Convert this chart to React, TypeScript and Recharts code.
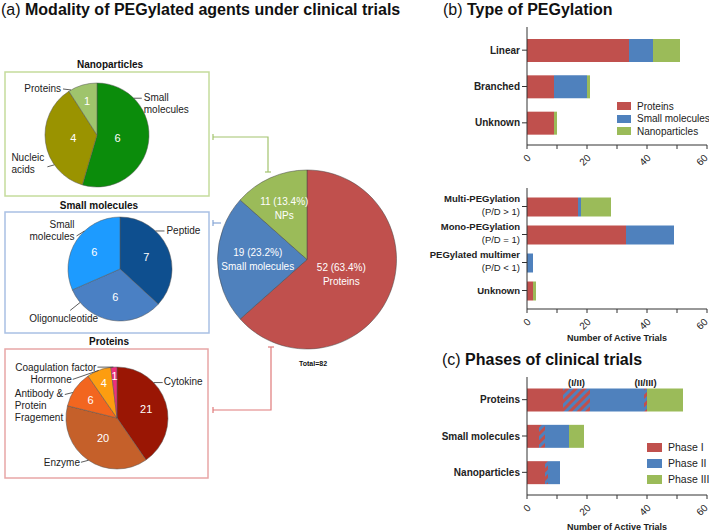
import React from "react";
import { PieChart, Pie, Cell, BarChart, Bar, XAxis, YAxis, Legend, LabelList } from "recharts";

const FONT = "'Liberation Sans', Arial, Helvetica, sans-serif";
const RED = "#c0504d";
const BLUE = "#4f81bd";
const GREEN = "#9bbb59";

// (a) modality of PEGylated agents
const modalityNames = ["Proteins", "Small molecules", "NPs"];
const modalityCounts = [52, 19, 11];

const npNames = ["Small molecules", "Nucleic acids", "Proteins"];
const npCounts = [6, 4, 1];

const smNames = ["Peptide", "Oligonucleotide", "Small molecules"];
const smCounts = [7, 6, 6];

const proteinNames = ["Cytokine", "Enzyme", "Antibody & Protein Fragement", "Hormone", "Coagulation factor"];
const proteinCounts = [21, 20, 6, 4, 1];

// (b) type of PEGylation
const pegTypes = ["Linear", "Branched", "Unknown"];
const pegTypeProteins = [34, 9, 9];
const pegTypeSmall = [8, 11, 0];
const pegTypeNano = [9, 1, 1];

const pegRatios = ["Multi-PEGylation", "Mono-PEGylation", "PEGylated multimer", "Unknown"];
const pegRatioNotes = ["(P/D > 1)", "(P/D = 1)", "(P/D < 1)", ""];
const pegRatioProteins = [17, 33, 0, 2];
const pegRatioSmall = [1, 16, 2, 0];
const pegRatioNano = [10, 0, 0, 1];

// (c) phases of clinical trials
const phaseGroups = ["Proteins", "Small molecules", "Nanoparticles"];
const phase1 = [12, 4, 6];
const phase1to2 = [9, 2, 1];
const phase2 = [18, 8, 4];
const phase2to3 = [1, 0, 0];
const phase3 = [12, 5, 0];
const bridge12Notes = ["(I/II)", "", ""];
const bridge23Notes = ["(II/III)", "", ""];

const seriesOrder = ["Proteins", "Small molecules", "Nanoparticles", "Phase I", "Phase II", "Phase III"];

const toPie = (names: string[], counts: number[]) => names.map((name, i) => ({ name, value: counts[i] }));
const modalityData = toPie(modalityNames, modalityCounts);
const npData = toPie(npNames, npCounts);
const smData = toPie(smNames, smCounts);
const proteinData = toPie(proteinNames, proteinCounts);

const typeData = pegTypes.map((name, i) => ({
  name, proteins: pegTypeProteins[i], small: pegTypeSmall[i], nano: pegTypeNano[i],
}));
const ratioData = pegRatios.map((name, i) => ({
  name, proteins: pegRatioProteins[i], small: pegRatioSmall[i], nano: pegRatioNano[i],
}));
const phaseData = phaseGroups.map((name, i) => ({
  name, p1: phase1[i], p12: phase1to2[i], p2: phase2[i], p23: phase2to3[i], p3: phase3[i],
}));

const modalityColors = [RED, BLUE, GREEN];
const npColors = ["#0b8c0b", "#9a9300", "#9fc46c"];
const smColors = ["#0e4f8f", "#4a80c4", "#1d9bff"];
const proteinColors = ["#9a1604", "#c5602a", "#f2661f", "#fd9d10", "#ee2f7c"];

const RAD = Math.PI / 180;

type Callout = {
  angle: number; lx: number; ly: number; tx: number; ty: number;
  anchor: "start" | "end"; breakAt?: number[];
};

// label placement (leader start angle on rim, leader offset, text offset)
const npCallouts: Callout[] = [
  { angle: 45, lx: 8, ly: 0, tx: 2, ty: -1, anchor: "start", breakAt: [1] },
  { angle: 215, lx: -7, ly: 2, tx: -36, ty: -9, anchor: "start", breakAt: [1] },
  { angle: 120, lx: -8, ly: -1, tx: -2, ty: 0, anchor: "end" },
];
const smCallouts: Callout[] = [
  { angle: 47, lx: 9, ly: 0, tx: 2, ty: 0, anchor: "start" },
  { angle: 220, lx: -10, ly: 8, tx: -41, ty: 8, anchor: "start" },
  { angle: 133, lx: -8, ly: 5, tx: -2, ty: -11, anchor: "end", breakAt: [1] },
];
const proteinCallouts: Callout[] = [
  { angle: 44, lx: 9, ly: 0, tx: 1, ty: -1, anchor: "start" },
  { angle: 236, lx: -7.5, ly: 2, tx: -1, ty: 0.5, anchor: "end" },
  { angle: 150, lx: -8, ly: 2, tx: -50, ty: -1, anchor: "start", breakAt: [2, 3] },
  { angle: 111, lx: -26, ly: 9, tx: -1, ty: 0, anchor: "end" },
  { angle: 94, lx: -16, ly: 0, tx: -1, ty: 0, anchor: "end" },
];

const splitLines = (name: string, breakAt: number[] = []) => {
  const w = name.split(" ");
  const cuts = [0, ...breakAt, w.length];
  return cuts.slice(0, -1).map((c, i) => w.slice(c, cuts[i + 1]).join(" "));
};

const pieLabel = (valueR: number[], callouts: Callout[] | null) => (p: any) => {
  const { cx, cy, midAngle, outerRadius, index, value, name, percent } = p;
  const r = outerRadius * valueR[index];
  const vx = cx + r * Math.cos(-midAngle * RAD);
  const vy = cy + r * Math.sin(-midAngle * RAD);

  if (!callouts) {
    const lines = [`${value} (${(percent * 100).toFixed(1)}%)`, name];
    return (
      <g>
        {lines.map((l, i) => (
          <text key={i} x={vx} y={vy - 7 + i * 14} dy="0.35em" textAnchor="middle"
            fontSize={10} fill="#fff" fontFamily={FONT}>{l}</text>
        ))}
      </g>
    );
  }

  const c = callouts[index];
  const ex = cx + outerRadius * Math.cos(c.angle * RAD);
  const ey = cy - outerRadius * Math.sin(c.angle * RAD);
  const lx = ex + c.lx;
  const ly = ey + c.ly;
  const lines = splitLines(name, c.breakAt);
  return (
    <g>
      <text x={vx} y={vy} dy="0.35em" textAnchor="middle" fontSize={11} fill="#fff" fontFamily={FONT}>{value}</text>
      <line x1={ex} y1={ey} x2={lx} y2={ly} stroke="#333" strokeWidth={0.8} />
      {lines.map((l, i) => (
        <text key={i} x={lx + c.tx} y={ly + c.ty + i * 12} dy="0.35em" textAnchor={c.anchor}
          fontSize={10} fill="#222" fontFamily={FONT}>{l}</text>
      ))}
    </g>
  );
};

const RotTick = (props: any) => {
  const { x, y, payload } = props;
  if (payload.value % 20 !== 0) return <g />;
  const tx = payload.value === 60 ? x - 1 : x + 2;
  const ty = y + 5;
  return (
    <text x={tx} y={ty} dy="0.35em" textAnchor="end" transform={`rotate(-45 ${tx} ${ty})`}
      fontSize={10} fill="#222" fontFamily={FONT}>{payload.value}</text>
  );
};

const CatTick = (props: any) => {
  const { x, y, payload } = props;
  return (
    <text x={x} y={y} dy="0.35em" textAnchor="end" fontSize={10} fontWeight="bold" fill="#222" fontFamily={FONT}>
      {payload.value}
    </text>
  );
};

const RatioTick = (props: any) => {
  const { x, y, payload, index } = props;
  const note = pegRatioNotes[index];
  if (!note) {
    return (
      <text x={x} y={y} dy="0.35em" textAnchor="end" fontSize={9.5} fontWeight="bold" fill="#222" fontFamily={FONT}>
        {payload.value}
      </text>
    );
  }
  return (
    <g>
      <text x={x} y={y - 8} dy="0.35em" textAnchor="end" fontSize={9.5} fontWeight="bold" fill="#222" fontFamily={FONT}>
        {payload.value}
      </text>
      <text x={x} y={y + 5} dy="0.35em" textAnchor="end" fontSize={9.5} fill="#222" fontFamily={FONT}>
        {note}
      </text>
    </g>
  );
};

const legendContent = (rowH: number, swW: number, swH: number, fs: number) => (props: any) => {
  const items = (props.payload || [])
    .filter((e: any) => e.type !== "none")
    .slice()
    .sort((a: any, b: any) => seriesOrder.indexOf(a.value) - seriesOrder.indexOf(b.value));
  return (
    <div style={{ fontFamily: FONT, fontSize: fs, color: "#222" }}>
      {items.map((e: any) => (
        <div key={e.value} style={{ display: "flex", alignItems: "center", height: rowH, whiteSpace: "nowrap" }}>
          <span style={{ display: "inline-block", width: swW, height: swH, background: e.color, marginRight: 6 }} />
          {e.value}
        </div>
      ))}
    </div>
  );
};

const bridgeLabel = (notes: string[]) => (p: any) => {
  const { x, y, width, index } = p;
  const note = notes[index];
  if (!note) return null;
  return (
    <text x={x + width / 2} y={y - 3} textAnchor="middle" fontSize={9.5} fontWeight="bold" fill="#222" fontFamily={FONT}>
      {note}
    </text>
  );
};

const xTicks = [0, 10, 20, 30, 40, 50, 60];
const axisColor = "#333";

const Title = ({ x, y, tag, text }: { x: number; y: number; tag: string; text: string }) => (
  <text x={x} y={y} fontSize={16} fill="#111" fontFamily={FONT}>
    <tspan>{tag} </tspan>
    <tspan fontWeight="bold">{text}</tspan>
  </text>
);

export default function App() {
  return (
    <div style={{ position: "absolute", left: 0, top: 0, width: 709, height: 531, background: "#fff", overflow: "hidden", fontFamily: FONT }}>
      <svg width={709} height={531} style={{ position: "absolute", left: 0, top: 0 }}>
        <Title x={1} y={15} tag="(a)" text="Modality of PEGylated agents under clinical trials" />
        <Title x={443} y={15} tag="(b)" text="Type of PEGylation" />
        <Title x={442} y={365} tag="(c)" text="Phases of clinical trials" />

        <rect x={5} y={72} width={204} height={124} fill="none" stroke="#c5dc9c" strokeWidth={1.5} />
        <rect x={5} y={212} width={204} height={121} fill="none" stroke="#a9c0e4" strokeWidth={1.5} />
        <rect x={5} y={349} width={203} height={129} fill="none" stroke="#e8a6a6" strokeWidth={1.5} />

        <text x={110} y={67.5} textAnchor="middle" fontSize={10} fontWeight="bold" fill="#111">Nanoparticles</text>
        <text x={99} y={208.5} textAnchor="middle" fontSize={10} fontWeight="bold" fill="#111">Small molecules</text>
        <text x={109} y={344.5} textAnchor="middle" fontSize={10} fontWeight="bold" fill="#111">Proteins</text>

        <g fill="none" strokeWidth={1.2}>
          <polyline points="213,137 268,137 268,172" stroke="#a3c46e" />
          <line x1={213} y1={134} x2={213} y2={140} stroke="#a3c46e" />
          <line x1={265} y1={172} x2={271} y2={172} stroke="#a3c46e" />
          <line x1={213} y1={223} x2={221} y2={223} stroke="#86a6d6" />
          <line x1={213} y1={220} x2={213} y2={226} stroke="#86a6d6" />
          <polyline points="213,410 271,410 271,347" stroke="#e07a7a" />
          <line x1={213} y1={407} x2={213} y2={413} stroke="#e07a7a" />
          <line x1={268} y1={347} x2={274} y2={347} stroke="#e07a7a" />
        </g>

        <text x={313} y={365.5} textAnchor="middle" fontSize={7} fontWeight="bold" fill="#111">Total=82</text>
      </svg>

      <div style={{ position: "absolute", left: 0, top: 0 }}>
        <PieChart width={440} height={531} margin={{ top: 0, right: 0, bottom: 0, left: 0 }}>
          <Pie data={npData} dataKey="value" nameKey="name" cx={97} cy={135} outerRadius={52}
            startAngle={90} endAngle={-270} stroke="#555" strokeWidth={0.5}
            label={pieLabel([0.4, 0.46, 0.67], npCallouts)} labelLine={false} isAnimationActive={false}>
            {npColors.map((c, i) => <Cell key={i} fill={c} />)}
          </Pie>
          <Pie data={smData} dataKey="value" nameKey="name" cx={120} cy={269} outerRadius={52}
            startAngle={90} endAngle={-270} stroke="#555" strokeWidth={0.5}
            label={pieLabel([0.55, 0.55, 0.59], smCallouts)} labelLine={false} isAnimationActive={false}>
            {smColors.map((c, i) => <Cell key={i} fill={c} />)}
          </Pie>
          <Pie data={proteinData} dataKey="value" nameKey="name" cx={117} cy={418} outerRadius={51}
            startAngle={90} endAngle={-270} stroke="#555" strokeWidth={0.5}
            label={pieLabel([0.6, 0.48, 0.63, 0.73, 0.82], proteinCallouts)} labelLine={false} isAnimationActive={false}>
            {proteinColors.map((c, i) => <Cell key={i} fill={c} />)}
          </Pie>
          <Pie data={modalityData} dataKey="value" nameKey="name" cx={307} cy={259.5} outerRadius={89.5}
            startAngle={90} endAngle={-270} stroke="#444" strokeWidth={0.5}
            label={pieLabel([0.42, 0.55, 0.62], null)} labelLine={false} isAnimationActive={false}>
            {modalityColors.map((c, i) => <Cell key={i} fill={c} />)}
          </Pie>
        </PieChart>
      </div>

      <div style={{ position: "absolute", left: 420, top: 20 }}>
        <BarChart width={289} height={150} data={typeData} layout="vertical"
          margin={{ top: 7, right: 2, bottom: 0, left: 0 }}>
          <XAxis type="number" domain={[0, 60]} ticks={xTicks} interval={0} tick={RotTick}
            tickSize={4} height={25} stroke={axisColor} />
          <YAxis type="category" dataKey="name" width={107} tickSize={5} tick={CatTick}
            stroke={axisColor} padding={{ top: 5, bottom: 4 }} />
          <Bar dataKey="proteins" name="Proteins" stackId="a" fill={RED} barSize={23} isAnimationActive={false} />
          <Bar dataKey="small" name="Small molecules" stackId="a" fill={BLUE} barSize={23} isAnimationActive={false} />
          <Bar dataKey="nano" name="Nanoparticles" stackId="a" fill={GREEN} barSize={23} isAnimationActive={false} />
          <Legend layout="horizontal" verticalAlign="middle" align="center"
            content={legendContent(12.5, 14, 8, 10)}
            wrapperStyle={{ left: 197, top: 80, width: "auto", height: "auto" }} />
        </BarChart>
      </div>

      <div style={{ position: "absolute", left: 420, top: 170 }}>
        <BarChart width={289} height={175} data={ratioData} layout="vertical"
          margin={{ top: 18, right: 2, bottom: 0, left: 0 }}>
          <XAxis type="number" domain={[0, 60]} ticks={xTicks} interval={0} tick={RotTick}
            tickSize={4} height={36} stroke={axisColor}
            label={{ value: "Number of Active Trials", position: "insideBottom", offset: 4.5,
              fontSize: 9, fontWeight: "bold", fill: "#222", fontFamily: FONT }} />
          <YAxis type="category" dataKey="name" width={107} tickSize={5} tick={RatioTick}
            stroke={axisColor} padding={{ top: 4.5, bottom: 4.5 }} />
          <Bar dataKey="proteins" name="Proteins" stackId="a" fill={RED} barSize={19} isAnimationActive={false} />
          <Bar dataKey="small" name="Small molecules" stackId="a" fill={BLUE} barSize={19} isAnimationActive={false} />
          <Bar dataKey="nano" name="Nanoparticles" stackId="a" fill={GREEN} barSize={19} isAnimationActive={false} />
        </BarChart>
      </div>

      <div style={{ position: "absolute", left: 420, top: 360 }}>
        <BarChart width={289} height={171} data={phaseData} layout="vertical"
          margin={{ top: 17, right: 2, bottom: 0, left: 0 }}>
          <defs>
            <pattern id="hatchRB" patternUnits="userSpaceOnUse" width={6} height={6} patternTransform="rotate(45)">
              <rect width={6} height={6} fill={RED} />
              <rect width={3} height={6} fill={BLUE} />
            </pattern>
          </defs>
          <XAxis type="number" domain={[0, 60]} ticks={xTicks} interval={0} tick={RotTick}
            tickSize={4} height={36} stroke={axisColor}
            label={{ value: "Number of Active Trials", position: "insideBottom", offset: 1.5,
              fontSize: 9, fontWeight: "bold", fill: "#222", fontFamily: FONT }} />
          <YAxis type="category" dataKey="name" width={107} tickSize={5} tick={CatTick}
            stroke={axisColor} padding={{ top: 4.5, bottom: 4.5 }} />
          <Bar dataKey="p1" name="Phase I" stackId="a" fill={RED} barSize={23} isAnimationActive={false} />
          <Bar dataKey="p12" name="Phase I/II" stackId="a" fill="url(#hatchRB)" barSize={23} legendType="none" isAnimationActive={false}>
            <LabelList dataKey="p12" content={bridgeLabel(bridge12Notes)} />
          </Bar>
          <Bar dataKey="p2" name="Phase II" stackId="a" fill={BLUE} barSize={23} isAnimationActive={false} />
          <Bar dataKey="p23" name="Phase II/III" stackId="a" fill="url(#hatchRB)" barSize={23} legendType="none" isAnimationActive={false}>
            <LabelList dataKey="p23" content={bridgeLabel(bridge23Notes)} />
          </Bar>
          <Bar dataKey="p3" name="Phase III" stackId="a" fill={GREEN} barSize={23} isAnimationActive={false} />
          <Legend layout="horizontal" verticalAlign="middle" align="center"
            content={legendContent(16, 15, 9, 10.5)}
            wrapperStyle={{ left: 227, top: 79, width: "auto", height: "auto" }} />
        </BarChart>
      </div>
    </div>
  );
}
